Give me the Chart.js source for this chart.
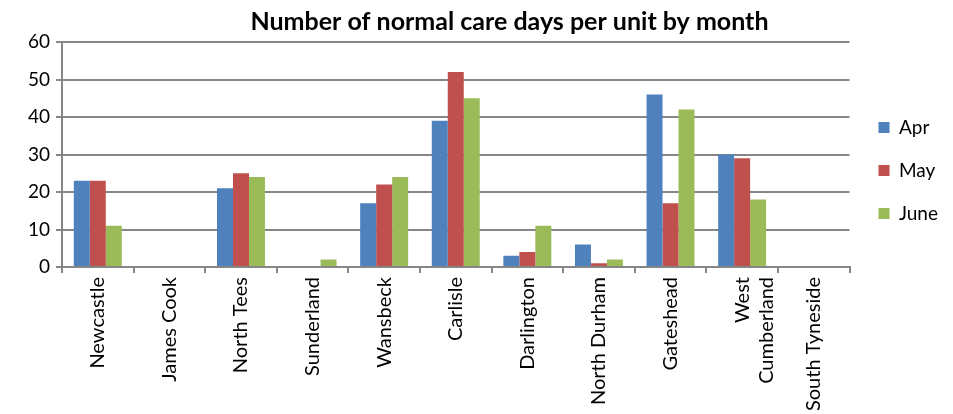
<!DOCTYPE html>
<html>
<head>
<meta charset="utf-8">
<script src="https://cdn.jsdelivr.net/npm/chart.js@4"></script>
<style>
  html, body { margin: 0; padding: 0; background: #fff; }
  #wrap { width: 953px; height: 414px; }
</style>
</head>
<body>
<div id="wrap"><canvas id="chartCareDays"></canvas></div>
<script>
/* data */
const units = [
  'Newcastle', 'James Cook', 'North Tees', 'Sunderland', 'Wansbeck',
  'Carlisle', 'Darlington', 'North Durham', 'Gateshead',
  ['West', 'Cumberland'], 'South Tyneside'
];
const aprDays  = [23, 0, 21, 0, 17, 39, 3, 6, 46, 30, 0];
const mayDays  = [23, 0, 25, 0, 22, 52, 4, 1, 17, 29, 0];
const juneDays = [11, 0, 24, 2, 24, 45, 11, 2, 42, 18, 0];
const yTicks = [0, 10, 20, 30, 40, 50, 60];

const FONT = 'Lato, "Open Sans", sans-serif';
const GRID = '#868686';

// nudge title and legend to where the original has them
const nudge = {
  id: 'nudge',
  afterLayout(chart) {
    const t = chart.titleBlock;
    if (t) { t.left += 37; t.right += 37; }
    const lg = chart.legend;
    if (lg) {
      lg.top -= 40; lg.bottom -= 40;
      lg.left += 5; lg.right += 5;
    }
  }
};

new Chart(document.getElementById('chartCareDays'), {
  type: 'bar',
  data: {
    labels: units,
    datasets: [
      { label: 'Apr',  data: aprDays,  backgroundColor: '#4F81BD' },
      { label: 'May',  data: mayDays,  backgroundColor: '#C0504D' },
      { label: 'June', data: juneDays, backgroundColor: '#9BBB59' }
    ]
  },
  options: {
    responsive: true,
    maintainAspectRatio: false,
    animation: false,
    categoryPercentage: 0.67,
    barPercentage: 1,
    layout: { padding: { left: 2, right: 10, top: 7, bottom: 0 } },
    plugins: {
      title: {
        display: true,
        text: 'Number of normal care days per unit by month',
        color: '#000',
        font: { family: FONT, size: 25, weight: 'bold' },
        padding: { top: 0, bottom: 5 }
      },
      legend: {
        position: 'right',
        labels: {
          color: '#000',
          font: { family: FONT, size: 19 },
          boxWidth: 11,
          boxHeight: 11,
          padding: 24
        }
      },
      tooltip: { enabled: false }
    },
    scales: {
      x: {
        grid: {
          offset: true,
          drawOnChartArea: false,
          drawTicks: true,
          tickLength: 6,
          color: GRID,
          lineWidth: 2
        },
        border: { color: GRID, width: 2 },
        ticks: {
          color: '#000',
          font: { family: FONT, size: 20 },
          maxRotation: 90,
          minRotation: 90,
          autoSkip: false,
          padding: 4
        },
        afterFit(scale) { scale.height = 147; }
      },
      y: {
        min: 0,
        max: 60,
        afterBuildTicks(scale) {
          scale.ticks = yTicks.map(v => ({ value: v }));
        },
        grid: {
          color: GRID,
          lineWidth: 2,
          tickLength: 6
        },
        border: { color: GRID, width: 2 },
        ticks: {
          color: '#000',
          font: { family: FONT, size: 19 },
          padding: 6
        },
        afterFit(scale) { scale.width = 60; }
      }
    }
  },
  plugins: [nudge]
});
</script>
</body>
</html>
